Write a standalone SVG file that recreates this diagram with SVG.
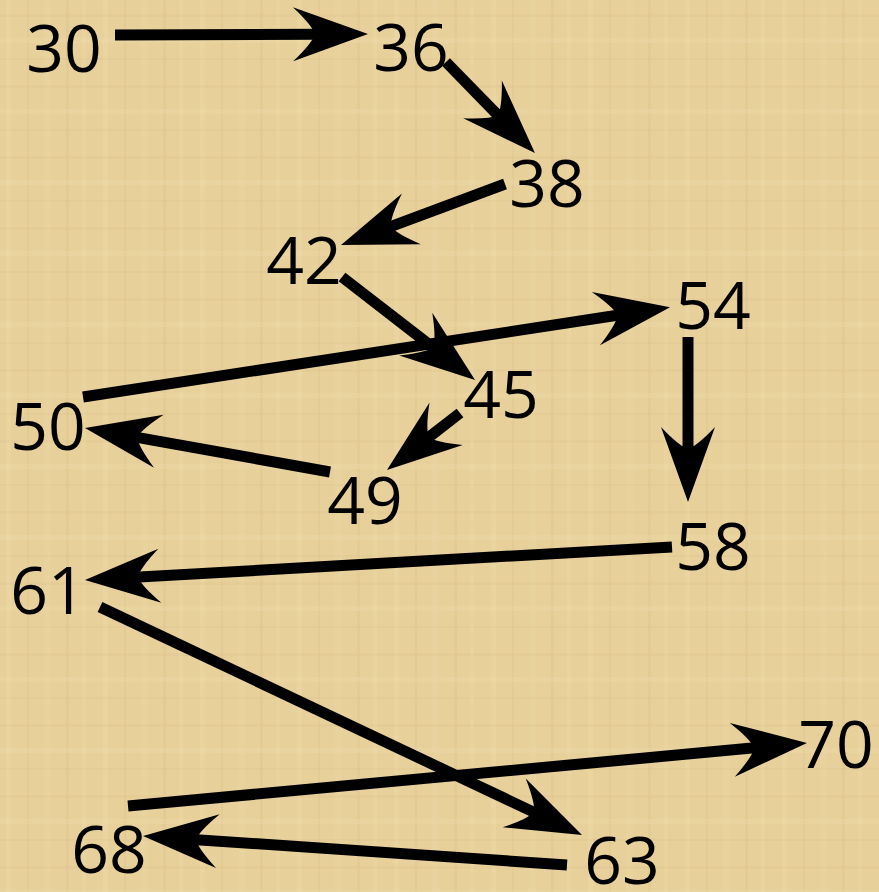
<svg xmlns="http://www.w3.org/2000/svg" width="879" height="892" viewBox="0 0 879 892">
<defs>
<style>
.lbl{font-family:"Open Sans","Noto Sans","DejaVu Sans",sans-serif;font-size:66px;fill:#000;text-anchor:middle}
.edge{stroke:#000;stroke-width:11;fill:none;marker-end:url(#head)}
</style>
<marker id="head" markerUnits="userSpaceOnUse" viewBox="-30 -30 84 60" markerWidth="84" markerHeight="60" refX="0" refY="0" orient="auto" overflow="visible">
<path d="M50,0 L-25,-27 Q-6,-9 -3,0 Q-6,9 -25,27 Z" fill="#000"/>
</marker>
<pattern id="tex" width="97" height="71" patternUnits="userSpaceOnUse">
<rect width="97" height="71" fill="#E7D09A"/>
<rect x="6" width="5" height="71" fill="#F0DDAC" opacity="0.35"/>
<rect x="27" width="2" height="71" fill="#D8BE84" opacity="0.25"/>
<rect x="44" width="7" height="71" fill="#EEDAA8" opacity="0.3"/>
<rect x="66" width="3" height="71" fill="#D6BC80" opacity="0.22"/>
<rect x="82" width="4" height="71" fill="#F1DFB0" opacity="0.3"/>
<rect y="14" width="97" height="3" fill="#DAC088" opacity="0.2"/>
<rect y="38" width="97" height="5" fill="#F0DEAE" opacity="0.25"/>
<rect y="58" width="97" height="2" fill="#D9BF85" opacity="0.18"/>
</pattern>
</defs>
<rect width="879" height="892" fill="url(#tex)"/>
<g id="connectors">
<line class="edge" x1="115" y1="35" x2="318" y2="34.2"/>
<line class="edge" x1="446" y1="62" x2="500" y2="117.3"/>
<line class="edge" x1="505" y1="184" x2="387.9" y2="227.6"/>
<line class="edge" x1="342" y1="277" x2="435.5" y2="349.4"/>
<line class="edge" x1="83" y1="397" x2="620.6" y2="314.8"/>
<line class="edge" x1="688" y1="337" x2="688" y2="452"/>
<line class="edge" x1="460" y1="413" x2="426.4" y2="439.2"/>
<line class="edge" x1="330" y1="472" x2="134.2" y2="436.8"/>
<line class="edge" x1="672" y1="547" x2="134.9" y2="577.2"/>
<line class="edge" x1="100" y1="607" x2="536.8" y2="813.6"/>
<line class="edge" x1="128" y1="806" x2="757.2" y2="747.6"/>
<line class="edge" x1="567" y1="865" x2="192.9" y2="839.4"/>
</g>
<g id="n30"><text class="lbl" x="64" y="72">30</text></g>
<g id="n36"><text class="lbl" x="411" y="71">36</text></g>
<g id="n38"><text class="lbl" x="547" y="207">38</text></g>
<g id="n42"><text class="lbl" x="304" y="284">42</text></g>
<g id="n54"><text class="lbl" x="713" y="329">54</text></g>
<g id="n45"><text class="lbl" x="501" y="418">45</text></g>
<g id="n50"><text class="lbl" x="48" y="450">50</text></g>
<g id="n49"><text class="lbl" x="365" y="524">49</text></g>
<g id="n58"><text class="lbl" x="713" y="570">58</text></g>
<g id="n61"><text class="lbl" x="48" y="614">61</text></g>
<g id="n70"><text class="lbl" x="836" y="768">70</text></g>
<g id="n68"><text class="lbl" x="109" y="873">68</text></g>
<g id="n63"><text class="lbl" x="622" y="884">63</text></g>
</svg>
